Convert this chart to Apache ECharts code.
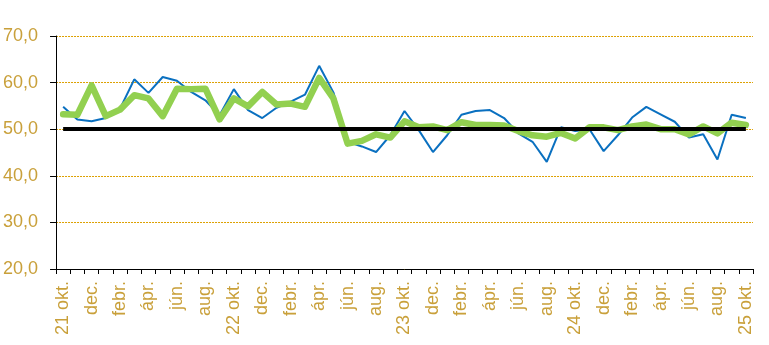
<!DOCTYPE html>
<html>
<head>
<meta charset="utf-8">
<script src="https://cdn.jsdelivr.net/npm/echarts@6/dist/echarts.min.js"></script>
<style>html,body{margin:0;padding:0;background:#fff;}#c{width:769px;height:345px;}</style>
</head>
<body>
<div id="c"></div>
<script>
const categories = [
  "21 okt.","nov.","dec.","jan.","febr.","márc.","ápr.","máj.","jún.","júl.","aug.","szept.",
  "22 okt.","nov.","dec.","jan.","febr.","márc.","ápr.","máj.","jún.","júl.","aug.","szept.",
  "23 okt.","nov.","dec.","jan.","febr.","márc.","ápr.","máj.","jún.","júl.","aug.","szept.",
  "24 okt.","nov.","dec.","jan.","febr.","márc.","ápr.","máj.","jún.","júl.","aug.","szept.",
  "25 okt."
];
const blueValues = [
  54.8,52.1,51.7,52.4,54.4,60.7,57.8,61.2,60.4,58.0,56.2,53.0,
  58.6,54.1,52.4,54.6,55.9,57.4,63.6,57.9,47.3,46.3,45.1,48.7,
  53.9,49.8,45.1,48.7,53.1,53.9,54.1,52.4,49.1,47.3,43.0,50.4,
  49.6,50.0,45.3,48.7,52.5,54.8,53.2,51.6,48.2,48.9,43.5,53.1,
  52.4
];
const greenValues = [
  53.2,53.1,59.4,52.8,54.2,57.3,56.6,52.8,58.7,58.6,58.7,52.1,
  56.6,54.9,58.0,55.3,55.5,54.8,61.0,56.6,46.9,47.5,48.9,48.2,
  51.7,50.4,50.6,49.8,51.5,50.9,50.9,50.8,49.6,48.7,48.4,49.2,
  48.0,50.4,50.4,49.8,50.6,51.0,50.0,50.0,48.9,50.6,49.1,51.4,
  50.9
];
const referenceLevel = 50;
const yTicks = [20, 30, 40, 50, 60, 70];

const gold = '#C9A03A';
const font = '"Liberation Sans Narrow","Arial Narrow","Liberation Sans",sans-serif';
const chart = echarts.init(document.getElementById('c'), null, {renderer: 'canvas'});
chart.setOption({
  animation: false,
  backgroundColor: '#fff',
  grid: {left: 55, right: 16, top: 36, bottom: 76, containLabel: false},
  xAxis: {
    type: 'category',
    data: categories,
    boundaryGap: true,
    axisLine: {show: true, lineStyle: {color: '#000', width: 1}},
    axisTick: {show: true, interval: 0, length: 5, lineStyle: {color: '#000'}},
    axisLabel: {
      interval: 1, rotate: 90, margin: 12, color: gold,
      fontFamily: font, fontSize: 18
    },
    splitLine: {show: false}
  },
  yAxis: {
    type: 'value',
    min: yTicks[0], max: yTicks[yTicks.length - 1], interval: 10,
    axisLine: {show: true, lineStyle: {color: '#000', width: 1}},
    axisTick: {show: true, length: 6, lineStyle: {color: '#000'}},
    axisLabel: {
      margin: 18, color: gold,
      fontFamily: font, fontSize: 18,
      formatter: v => v.toFixed(1).replace('.', ',')
    },
    splitLine: {show: true, lineStyle: {color: '#DDA000', type: [2, 1], width: 1}}
  },
  series: [
    {
      type: 'line', data: blueValues, symbol: 'none', z: 2,
      lineStyle: {color: '#0A70C0', width: 2}
    },
    {
      type: 'line', data: greenValues, symbol: 'none', z: 3,
      lineStyle: {color: '#92D050', width: 6.5, join: 'round', cap: 'round'},
      markLine: {
        silent: true, symbol: 'none', z: 5,
        label: {show: false},
        lineStyle: {color: '#000', width: 4, type: 'solid'},
        data: [[
          {coord: [categories[0], referenceLevel]},
          {coord: [categories[categories.length - 1], referenceLevel]}
        ]]
      }
    }
  ]
});
</script>
</body>
</html>
